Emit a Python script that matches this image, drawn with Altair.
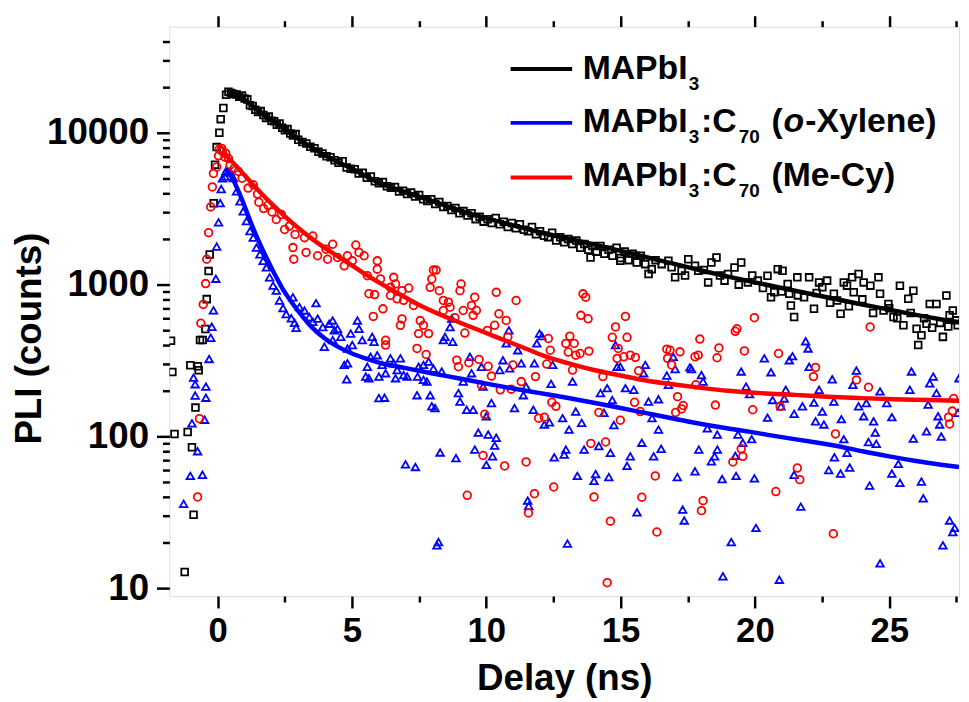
import altair as alt
import pandas as pd

FONT = "Liberation Sans"

# ---------------- data ----------------
black_x = [-1.74,-1.69,-1.61,-1.23,-1.12,-1.02,-0.96,-0.90,-0.83,-0.74,-0.71,-0.66,-0.56,-0.46,-0.41,-0.34,-0.30,-0.15,-0.10,-0.04,0.06,0.11,0.21,0.31,
 0.40,0.50,0.60,0.70,0.80,0.90,1.00,1.10,1.20,1.30,1.40,1.50,1.60,1.70,1.80,1.90,2.00,2.10,2.20,2.30,2.40,2.50,2.60,2.70,2.80,2.90,3.00,
 3.15,3.30,3.45,3.60,3.75,3.90,4.05,4.20,4.35,4.50,4.65,4.80,4.95,5.10,5.25,5.40,5.55,5.70,5.85,6.00,6.15,6.30,6.45,6.60,6.75,6.90,
 7.05,7.20,7.35,7.50,7.65,7.80,7.95,8.10,8.25,8.40,8.55,8.70,8.85,9.00,9.15,9.30,9.45,9.60,9.75,9.90,10.05,10.20,10.35,10.50,10.65,
 10.80,10.95,11.10,11.25,11.40,11.55,11.70,11.85,12.00,12.15,12.30,12.45,12.60,12.75,12.90,13.05,13.20,13.35,13.50,13.65,13.80,13.88,
 13.95,14.10,14.25,14.40,14.55,14.70,14.85,14.99,15.00,15.15,15.30,15.45,15.55,15.60,15.75,15.92,16.04,16.16,16.30,16.53,16.78,16.90,
 17.03,17.27,17.40,17.52,17.77,17.89,18.10,18.26,18.38,18.57,18.70,18.87,19.00,19.24,19.40,19.49,19.74,19.90,20.11,20.30,20.47,20.60,
 20.72,20.85,21.00,21.03,21.22,21.28,21.34,21.46,21.58,21.60,21.83,22.02,22.20,22.30,22.39,22.51,22.69,22.80,22.94,23.06,23.19,23.31,
 23.43,23.50,23.62,23.68,23.86,24.00,24.05,24.30,24.40,24.60,24.66,24.79,24.97,25.00,25.16,25.30,25.40,25.53,25.71,25.80,25.90,26.02,
 26.08,26.20,26.30,26.39,26.51,26.60,26.76,26.90,27.00,27.13,27.20,27.25,27.37,27.49,27.55]
black_y = [427,266,104,12.8,107,295,85,30.5,155,290,273,432,432,511,803,1228,1580,3440,6160,8050,10000,12300,14550,17800,
 18600,18300,18000,17900,17300,17600,16800,16600,15200,15000,14200,13700,13900,13100,12500,12800,12000,11900,11300,11500,10800,10400,10600,9900,9600,9800,9000,
 8700,8500,8100,7900,7500,7300,7000,6900,6600,6350,6500,5900,5800,5750,5400,5450,5050,5150,4800,4650,4750,4450,4350,4400,4100,4150,
 3950,4050,3800,3900,3650,3550,3650,3400,3500,3250,3300,3100,3200,2950,3050,2850,2950,2700,2800,2600,2700,2550,2750,2500,2600,
 2400,2550,2350,2500,2300,2250,2400,2150,2250,2100,2050,2200,1950,2050,1900,2000,1850,1950,1750,1850,1700,1509,
 1800,1650,1800,1600,1700,1550,1750,1435,1500,1650,1450,1600,1550,1400,1550,1365,1175,1265,1450,1365,1435,1300,
 1117,1235,1150,1470,1330,1235,1250,1035,1400,1509,1150,1063,1175,1298,1000,1400,1035,1150,1063,950,1145,827,
 890,1265,900,1235,1010,870,730,612,1117,850,827,1117,693,880,1035,960,1063,760,870,787,643,1035,
 985,720,1117,890,1175,800,1035,985,650,1117,870,676,747,700,612,600,985,540,807,650,913,512,
 400,464,600,553,747,520,747,560,453,848,530,628,676,582,540]

blue_x = [-1.27,-1.02,-0.96,-0.90,-0.84,-0.84,-0.75,-0.57,-0.49,-0.44,-0.44,-0.32,-0.26,-0.22,-0.16,-0.07,-0.04,0.03,0.09,0.13,0.18,0.27,0.30,0.40,
 0.46,0.58,0.70,0.83,0.95,1.07,1.20,1.32,1.44,1.57,1.69,1.81,1.93,2.06,2.18,2.30,2.43,2.55,2.74,2.80,2.86,2.92,
 3.04,3.23,3.41,3.66,3.54,3.72,3.91,3.97,4.15,4.28,4.34,4.46,4.58,4.28,4.83,5.01,5.20,5.26,4.95,5.38,5.75,5.82,5.69,4.71,4.83,4.80,
 5.57,5.51,5.63,5.94,6.12,6.00,6.25,6.43,6.55,6.80,6.68,6.62,6.92,7.05,6.00,6.21,6.99,7.36,7.48,7.66,7.85,8.03,8.34,7.44,7.66,7.79,
 7.42,7.91,7.97,8.09,8.28,8.22,8.16,8.46,8.40,8.75,8.65,8.71,8.87,8.96,9.02,9.27,9.51,9.14,9.39,9.45,9.82,9.88,10.19,10.00,9.70,
 10.07,10.37,10.31,9.57,10.23,10.00,10.62,10.84,10.74,10.50,10.87,11.05,11.30,11.17,11.48,11.38,11.79,11.75,11.98,12.07,11.88,
 12.16,12.41,12.35,12.47,12.84,13.08,13.33,13.21,13.55,13.64,12.96,12.53,12.90,13.39,14.07,14.01,14.56,14.62,14.19,14.25,14.50,
 14.69,14.75,14.38,14.81,14.87,14.99,15.18,15.49,15.36,15.24,15.61,15.79,15.92,15.86,16.04,16.17,16.23,11.54,11.58,13.02,
 16.41,16.51,16.41,16.72,16.78,16.96,17.03,17.11,17.31,17.37,17.58,17.64,17.77,17.91,18.01,18.07,18.23,18.38,18.50,18.60,18.60,
 18.78,18.81,19.12,19.27,19.30,19.37,19.49,19.55,19.67,19.80,19.88,19.98,20.04,20.35,20.47,20.60,20.66,20.91,20.97,21.09,21.15,
 21.28,21.40,21.46,21.46,21.71,21.77,21.89,21.98,22.02,22.20,22.26,22.39,22.51,22.57,22.75,22.88,22.94,22.96,23.19,23.22,23.31,
 23.43,23.53,23.65,23.78,23.86,24.05,24.15,24.23,24.27,24.42,24.48,24.52,24.66,24.66,24.91,25.10,25.10,25.34,25.40,25.77,25.83,
 25.90,26.20,26.27,26.39,26.45,26.51,26.64,26.76,26.82,26.88,26.94,27.00,27.25,27.37,27.44,27.56,27.60]
blue_y = [36,55,122,244,186,221,80,56,129,180,213,324,447,528,677,1094,1780,2570,3440,4260,5020,5155,5570,5500,
 5560,5025,4115,3540,3040,2620,2254,2039,1754,1585,1435,1298,1117,985,913,786,700,640,600,826,560,520,
 711,676,612,755,569,597,526,390,553,581,500,512,453,431,380,400,581,512,476,431,453,420,335,296,303,238,
 288,248,242,343,296,248,261,327,303,327,274,242,254,248,179,180,65.5,63,288,296,311,280,268,248,236,230,
 187,187,158,154,78.5,20.2,19.2,453,431,420,526,597,72,193,170,150,150,230,335,261,288,213,166,136,106,
 103,98,87,82,74,65,318,500,410,274,281,154,303,370,213,187,303,150,476,458,410,
 120,222,124,296,132,111,146,230,123,82,82,73,76,55,56.5,51,54,78,86.5,193,208,
 174,119,143,400,288,288,208,203,74,64,31.7,91,296,261,170,132,74,37.8,35,19.7,
 111,83,176,252,219,335,278,54,33,28,285,278,59,82,254,230,113,68.6,74,82,103,
 52.5,12,20.2,74.5,55,103,268,91,213,190,96,53,25,327,133,265,174,11.4,158,178,203,
 318,338,141,56,34.5,158,424,380,288,167,126,203,146,120,60,238,170,73,57,130,96,
 78,62.5,219,272,158,136,166,92,47.5,126,106,89.5,14.6,198,166,134,57,66,49.5,203,268,
 97,50.5,39.2,108,162,224,248,193,136,120,100,19.2,28,23.5,25,143,242]

red_x = [-0.75,-0.68,-0.63,-0.54,-0.45,-0.41,-0.34,-0.26,-0.20,-0.16,-0.04,0.03,0.06,0.15,0.17,0.27,0.30,0.40,0.46,0.62,0.77,0.91,
 1.13,1.32,1.48,1.53,1.71,1.87,2.02,2.18,2.37,2.49,2.67,2.88,2.80,2.83,
 3.23,3.54,3.29,3.72,4.03,4.28,4.09,4.46,4.71,4.83,5.14,5.26,5.45,5.01,5.57,5.94,5.94,6.06,5.63,5.84,5.79,6.15,6.25,6.25,6.43,
 6.55,6.62,6.43,6.68,6.86,7.11,6.92,7.29,6.86,6.80,7.42,7.54,7.66,7.48,7.85,7.76,8.03,8.13,7.97,7.91,8.25,8.40,8.59,8.65,8.40,
 8.83,9.02,9.06,9.14,9.20,9.45,9.57,9.63,9.51,10.04,10.37,10.31,10.47,10.74,11.11,10.80,8.90,8.96,9.73,9.35,10.07,10.19,9.82,
 9.94,9.88,9.29,10.52,10.93,10.99,10.68,11.30,11.48,11.79,11.57,11.83,11.95,12.16,12.25,12.31,12.38,12.44,12.59,12.51,12.96,
 13.11,13.27,13.33,13.05,13.49,13.21,13.82,13.60,13.70,13.52,13.79,14.01,13.89,14.19,14.34,14.44,14.62,14.50,14.69,14.81,14.91,
 14.87,14.99,15.12,15.18,15.24,15.36,15.55,15.52,15.67,15.79,15.73,16.29,16.35,
 16.72,16.84,16.75,16.90,17.21,17.12,17.33,17.27,17.05,17.77,17.89,17.95,17.80,18.07,18.01,18.59,18.66,18.53,19.18,19.49,19.55,
 19.27,19.33,19.61,19.92,19.98,20.78,20.88,20.94,21.58,21.67,22.18,22.26,22.92,23.00,23.78,24.23,24.29,27.21,27.35,27.25,27.40]
red_y = [40,131,557,741,1016,1470,2200,3250,4400,5400,5960,7050,7800,7890,7540,6900,7330,6770,6145,5845,5560,5025,
 4325,4550,3950,3490,3170,3330,3010,2685,2895,2310,2430,2143,1754,1472,
 2039,2090,1630,1550,1710,1845,1470,1509,1330,1550,1825,1630,1550,1435,1145,1435,1265,1090,872,860,618,693,430,400,960,
 1117,1010,848,807,913,950,788,730,595,540,380,580,540,476,476,347,1247,1247,1090,960,913,787,767,710,676,
 606,913,1010,676,480,730,827,676,628,500,890,540,643,581,787,453,318,288,322,306,290,250,218,
 140,75,41,203,205,296,64,230,68,42,31.4,248,132,134,300,442,370,168,158,46.5,410,
 458,410,343,360,352,274,365,870,827,628,596,40,90,144,248,92,27.7,10.9,450,527,380,
 327,128,335,618,450,343,332,168,271,39.8,146,55,23.5,
 376,370,327,296,361,183,160,152,144,335,343,438,219,37.8,32.5,330,383,161,68,83,74,
 493,512,366,150,606,43.4,352,158,62,52,248,285,22.9,104,236,211,526,134,147,121,178]

fit_black_x = [0.35,0.8,1.2,1.6,2.0,2.5,3.0,3.5,4.0,4.5,5.0,6,7,8,9,10,11,12,13,14,15,16,17,18,19,20,21,22,23,24,25,26,27,27.6]
fit_black_y = [18500,17400,15500,13600,12100,10600,9100,8000,7100,6400,5800,4700,4050,3550,3080,2740,2460,2220,2020,1840,1670,1510,1370,1240,1130,1035,950,875,805,740,685,632,588,567]
fit_blue_x = [0.3,0.6,0.9,1.2,1.5,1.8,2.1,2.4,2.7,3.0,3.5,4.0,4.5,5.0,5.5,6.0,7,8,9,10,11,12,13,14,15,16,17,18,19,20,21,22,23,24,25,26,27,27.6]
fit_blue_y = [5800,4800,3650,2650,1980,1520,1190,950,790,670,525,440,388,352,327,307,282,260,241,223,207,193,180,167,154,142,131,121,113,106,99,93,87,80,74,69,65,63]
fit_red_x = [0.15,0.5,1.0,1.5,2.0,2.5,3.0,3.5,4.0,4.8,5.5,6.7,7.5,8.5,9.5,10.4,11.3,12.2,13,14,15,16,17,18,19,20.2,21.5,22.7,24,25.2,26.5,27.6]
fit_red_y = [7500,6550,5250,4200,3420,2820,2360,2010,1740,1410,1170,880,735,612,520,450,390,337,305,274,252,233,220,209,200,193,188,183,179,176,174,172]

x_major = [0, 5, 10, 15, 20, 25]
x_minor = [2.5, 7.5, 12.5, 17.5, 22.5, 27.5]
y_major = [10, 100, 1000, 10000]
y_minor = [m * d for d in (10, 100, 1000) for m in range(2, 10)] + [20000, 30000, 40000]

# ---------------- chart ----------------
W, H = 796, 574
XDOM = [-1.8, 27.6]
YDOM = [8.9, 50000]

def df(xs, ys):
    return pd.DataFrame({"x": xs, "y": ys})

def xenc(axis):
    return alt.X("x:Q", scale=alt.Scale(domain=XDOM, nice=False, zero=False), axis=axis)

def yenc(axis):
    return alt.Y("y:Q", scale=alt.Scale(type="log", domain=YDOM, nice=False), axis=axis)

common_axis = dict(grid=False, domain=False, tickColor="black", tickWidth=2.5,
                   labelFont=FONT, labelFontWeight="bold", labelColor="black")

ax_bottom = alt.Axis(values=x_major, tickSize=12, labelPadding=6, labelFontSize=35,
                     title="Delay (ns)", titleFont=FONT, titleFontWeight="bold", titleFontSize=37,
                     titleColor="black", titleX=W / 2, titleY=94, titleBaseline="alphabetic",
                     titleAlign="center", orient="bottom", labelFlush=False, **common_axis)
ax_left = alt.Axis(values=y_major, format="d", tickSize=13, labelPadding=8, labelFontSize=37,
                   title="PLI (counts)", titleFont=FONT, titleFontWeight="bold", titleFontSize=37,
                   titleColor="black", titleX=-130, titleY=314, titleAngle=270,
                   titleBaseline="alphabetic", titleAlign="center", orient="left", **common_axis)
ax_bottom_minor = alt.Axis(values=x_minor, tickSize=6, labels=False, title=None, orient="bottom", **common_axis)
ax_left_minor = alt.Axis(values=y_minor, tickSize=7, labels=False, title=None, orient="left", **common_axis)
ax_top = alt.Axis(values=x_major, tickSize=11, labels=False, title=None, orient="top", **common_axis)
ax_top_minor = alt.Axis(values=x_minor, tickSize=6, labels=False, title=None, orient="top", **common_axis)

hidden = df(fit_black_x, fit_black_y)

axis_main = alt.Chart(hidden).mark_point(opacity=0).encode(x=xenc(ax_bottom), y=yenc(ax_left))
axis_minor = alt.Chart(hidden).mark_point(opacity=0).encode(x=xenc(ax_bottom_minor), y=yenc(ax_left_minor))
axis_top = alt.Chart(hidden).mark_point(opacity=0).encode(x=xenc(ax_top), y=yenc(None))
axis_top_minor = alt.Chart(hidden).mark_point(opacity=0).encode(x=xenc(ax_top_minor), y=yenc(None))

def scatter(xs, ys, shape, color, size):
    return alt.Chart(df(xs, ys)).mark_point(shape=shape, filled=False, color=color, size=size,
                                            strokeWidth=1.8, opacity=1, clip=True).encode(
        x=xenc(None), y=yenc(None))

def fit(xs, ys, color):
    return alt.Chart(df(xs, ys)).mark_line(color=color, strokeWidth=4.5, interpolate="monotone",
                                           clip=True).encode(x=xenc(None), y=yenc(None))

pts_black = scatter(black_x, black_y, "square", "black", 46)
pts_blue = scatter(blue_x, blue_y, "triangle-up", "#0000ff", 58)
pts_red = scatter(red_x, red_y, "circle", "#ff0000", 60)

line_black = fit(fit_black_x, fit_black_y, "black")
line_blue = fit(fit_blue_x, fit_blue_y, "#0000ff")
line_red = fit(fit_red_x, fit_red_y, "#ff0000")

one = alt.Data(values=[{"k": 1}])

def leg_rule(y, color):
    return alt.Chart(one).mark_rule(color=color, strokeWidth=4).encode(
        x=alt.value(344), x2=alt.value(406), y=alt.value(y))

def leg_text(s, x, y, size, style="normal"):
    return alt.Chart(one).mark_text(text=s, align="left", baseline="alphabetic", font=FONT,
                                    fontSize=size, fontWeight="bold", fontStyle=style,
                                    color="black").encode(x=alt.value(x), y=alt.value(y))

MAIN, SUB = 34, 19
legend = [
    leg_rule(42.7, "black"), leg_rule(97, "#0000ff"), leg_rule(152, "#ff0000"),
    leg_text("MAPbI", 416.6, 52.7, MAIN), leg_text("3", 523.5, 64.3, SUB),
    leg_text("MAPbI", 416.6, 106.7, MAIN), leg_text("3", 523.5, 117.7, SUB),
    leg_text(":C", 536, 106.7, MAIN), leg_text("70", 574, 117.7, SUB),
    leg_text("(", 607, 106.7, MAIN), leg_text("o", 619, 106.7, MAIN, "italic"),
    leg_text("-Xylene)", 641, 106.7, MAIN),
    leg_text("MAPbI", 416.6, 161, MAIN), leg_text("3", 523.5, 172, SUB),
    leg_text(":C", 536, 161, MAIN), leg_text("70", 574, 172, SUB),
    leg_text("(Me-Cy)", 607, 161, MAIN),
]

chart = alt.layer(
    axis_main, axis_minor, axis_top, axis_top_minor,
    pts_black, pts_blue, pts_red, line_black, line_blue, line_red, *legend
).resolve_axis(x="independent", y="independent").properties(
    width=W, height=H,
    autosize=alt.AutoSizeParams(type="none"),
    padding={"left": 162.7, "top": 16, "right": 2, "bottom": 104},
).configure_view(stroke="black", strokeWidth=2.6).configure(background="white")

chart.save("out.html", embed_options={"renderer": "svg", "actions": False})
